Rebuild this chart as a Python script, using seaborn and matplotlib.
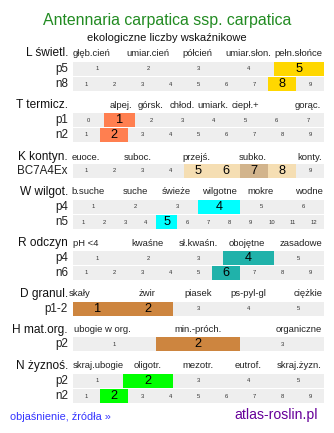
import numpy as np
import matplotlib
matplotlib.use("Agg")
import matplotlib.pyplot as plt
from matplotlib.colors import ListedColormap
import seaborn as sns

sns.set_theme(style="white")
plt.rcParams['font.family'] = ['Liberation Sans', 'DejaVu Sans']

# ---------------- data ----------------
title = "Antennaria carpatica ssp. carpatica"
subtitle = "ekologiczne liczby wskaźnikowe"

L_head = ["głęb.cień", "umiar.cień", "półcień", "umiar.słon.", "pełn.słońce"]
T_head = ["alpej.", "górsk.", "chłod.", "umiark.", "ciepł.+", "gorąc."]
K_head = ["euoce.", "suboc.", "przejś.", "subko.", "konty."]
W_head = ["b.suche", "suche", "świeże", "wilgotne", "mokre", "wodne"]
R_head = ["pH <4", "kwaśne", "sł.kwaśn.", "obojętne", "zasadowe"]
D_head = ["skały", "żwir", "piasek", "ps-pyl-gl", "ciężkie"]
H_head = ["ubogie w org.", "min.-próch.", "organiczne"]
N_head = ["skraj.ubogie", "oligotr.", "mezotr.", "eutrof.", "skraj.żyzn."]

L_p_scale = ["1", "2", "3", "4", "5"];            L_p_val = [5]
L_n_scale = [str(i) for i in range(1, 10)];       L_n_val = [8]
T_p_scale = [str(i) for i in range(0, 8)];        T_p_val = [1]
T_n_scale = [str(i) for i in range(1, 10)];       T_n_val = [2]
K_scale = [str(i) for i in range(1, 10)];         K_val = [5, 6, 7, 8]; K_main = [7]
W_p_scale = [str(i) for i in range(1, 7)];        W_p_val = [4]
W_n_scale = [str(i) for i in range(1, 13)];       W_n_val = [5]
R_p_scale = [str(i) for i in range(1, 6)];        R_p_val = [4]
R_n_scale = [str(i) for i in range(1, 10)];       R_n_val = [6]
D_p_scale = [str(i) for i in range(1, 6)];        D_p_val = [1, 2]
H_p_scale = [str(i) for i in range(1, 4)];        H_p_val = [2]
N_p_scale = [str(i) for i in range(1, 6)];        N_p_val = [2]
N_n_scale = [str(i) for i in range(1, 10)];       N_n_val = [2]

# ---------------- layout / style ----------------
W_PX, H_PX = 334, 433
X0, X1 = 72.5, 324.0
ROW_H = 14
GRAY = "#eeeeee"

groups = [
    # name, header labels, header x centers (px), header y, rows
    ("L świetl.", L_head, [92, 148, 197, 248, 298], 53, [
        ("p5", L_p_scale, L_p_val, [], "#ffd700", None, 62),
        ("n8", L_n_scale, L_n_val, [], "#ffd700", None, 77)]),
    ("T termicz.", T_head, [121, 151, 182, 213, 245, 308], 105, [
        ("p1", T_p_scale, T_p_val, [], "#ff7f50", None, 113),
        ("n2", T_n_scale, T_n_val, [], "#ff7f50", None, 128)]),
    ("K kontyn.", K_head, [86, 138, 196, 253, 310], 157, [
        ("BC7A4Ex", K_scale, K_val, K_main, "#f5deb3", "#d2b48c", 164)]),
    ("W wilgot.", W_head, [88, 135, 176, 219, 261, 309], 192, [
        ("p4", W_p_scale, W_p_val, [], "#00ffff", None, 200),
        ("n5", W_n_scale, W_n_val, [], "#00ffff", None, 215)]),
    ("R odczyn", R_head, [86, 148, 198, 247, 301], 243, [
        ("p4", R_p_scale, R_p_val, [], "#20b2aa", None, 251),
        ("n6", R_n_scale, R_n_val, [], "#20b2aa", None, 266)]),
    ("D granul.", D_head, [80, 147, 198, 248, 308], 294, [
        ("p1-2", D_p_scale, D_p_val, [], "#cd853f", None, 302)]),
    ("H mat.org.", H_head, [102, 198, 299], 330, [
        ("p2", H_p_scale, H_p_val, [], "#cd853f", None, 337)]),
    ("N żyznoś.", N_head, [98, 148, 198, 248, 299], 366, [
        ("p2", N_p_scale, N_p_val, [], "#00ff00", None, 374),
        ("n2", N_n_scale, N_n_val, [], "#00ff00", None, 389)]),
]

fig = plt.figure(figsize=(W_PX / 100, H_PX / 100), dpi=100)
bg = fig.add_axes([0, 0, 1, 1])
bg.set_xlim(0, W_PX)
bg.set_ylim(H_PX, 0)
bg.set_axis_off()

bg.text(167, 20, title, color="#228b22", fontsize=11.4, ha="center", va="center")
bg.text(167, 38, subtitle, color="#111111", fontsize=8, ha="center", va="center")

for gname, heads, hx, hy, rows in groups:
    bg.text(68, hy, gname, fontsize=8.6, ha="right", va="center", color="#111111")
    for lab, x in zip(heads, hx):
        bg.text(x, hy, lab, fontsize=6.8, ha="center", va="center", color="#222222")
    for rlab, scale, vals, main, col, col2, ytop in rows:
        bg.text(68, ytop + ROW_H / 2, rlab, fontsize=8.4, ha="right",
                va="center", color="#222222")
        codes = np.array([[ (2 if s in [str(m) for m in main] else
                              1 if s in [str(v) for v in vals] else 0)
                            for s in scale]])
        colors = [GRAY, col, col2 if col2 else col]
        ax = fig.add_axes([X0 / W_PX, 1 - (ytop + ROW_H) / H_PX,
                           (X1 - X0) / W_PX, ROW_H / H_PX])
        sns.heatmap(codes, ax=ax, cmap=ListedColormap(colors), vmin=-0.5,
                    vmax=2.5, cbar=False, annot=np.array([scale]), fmt="",
                    annot_kws=dict(color="#333333", fontsize=4.2),
                    xticklabels=False, yticklabels=False, linewidths=0)
        for t, c in zip(ax.texts, codes[0]):
            if c > 0:
                t.set_fontsize(9.2)
                t.set_color("black")
        ax.set_axis_off()

bg.text(10, 417, "objaśnienie, źródła »", color="#3333ff", fontsize=7.8,
        ha="left", va="center")
bg.text(318, 415, "atlas-roslin.pl", color="#660099", fontsize=10.1,
        ha="right", va="center")

fig.savefig("out.png", dpi=100, facecolor="white")
